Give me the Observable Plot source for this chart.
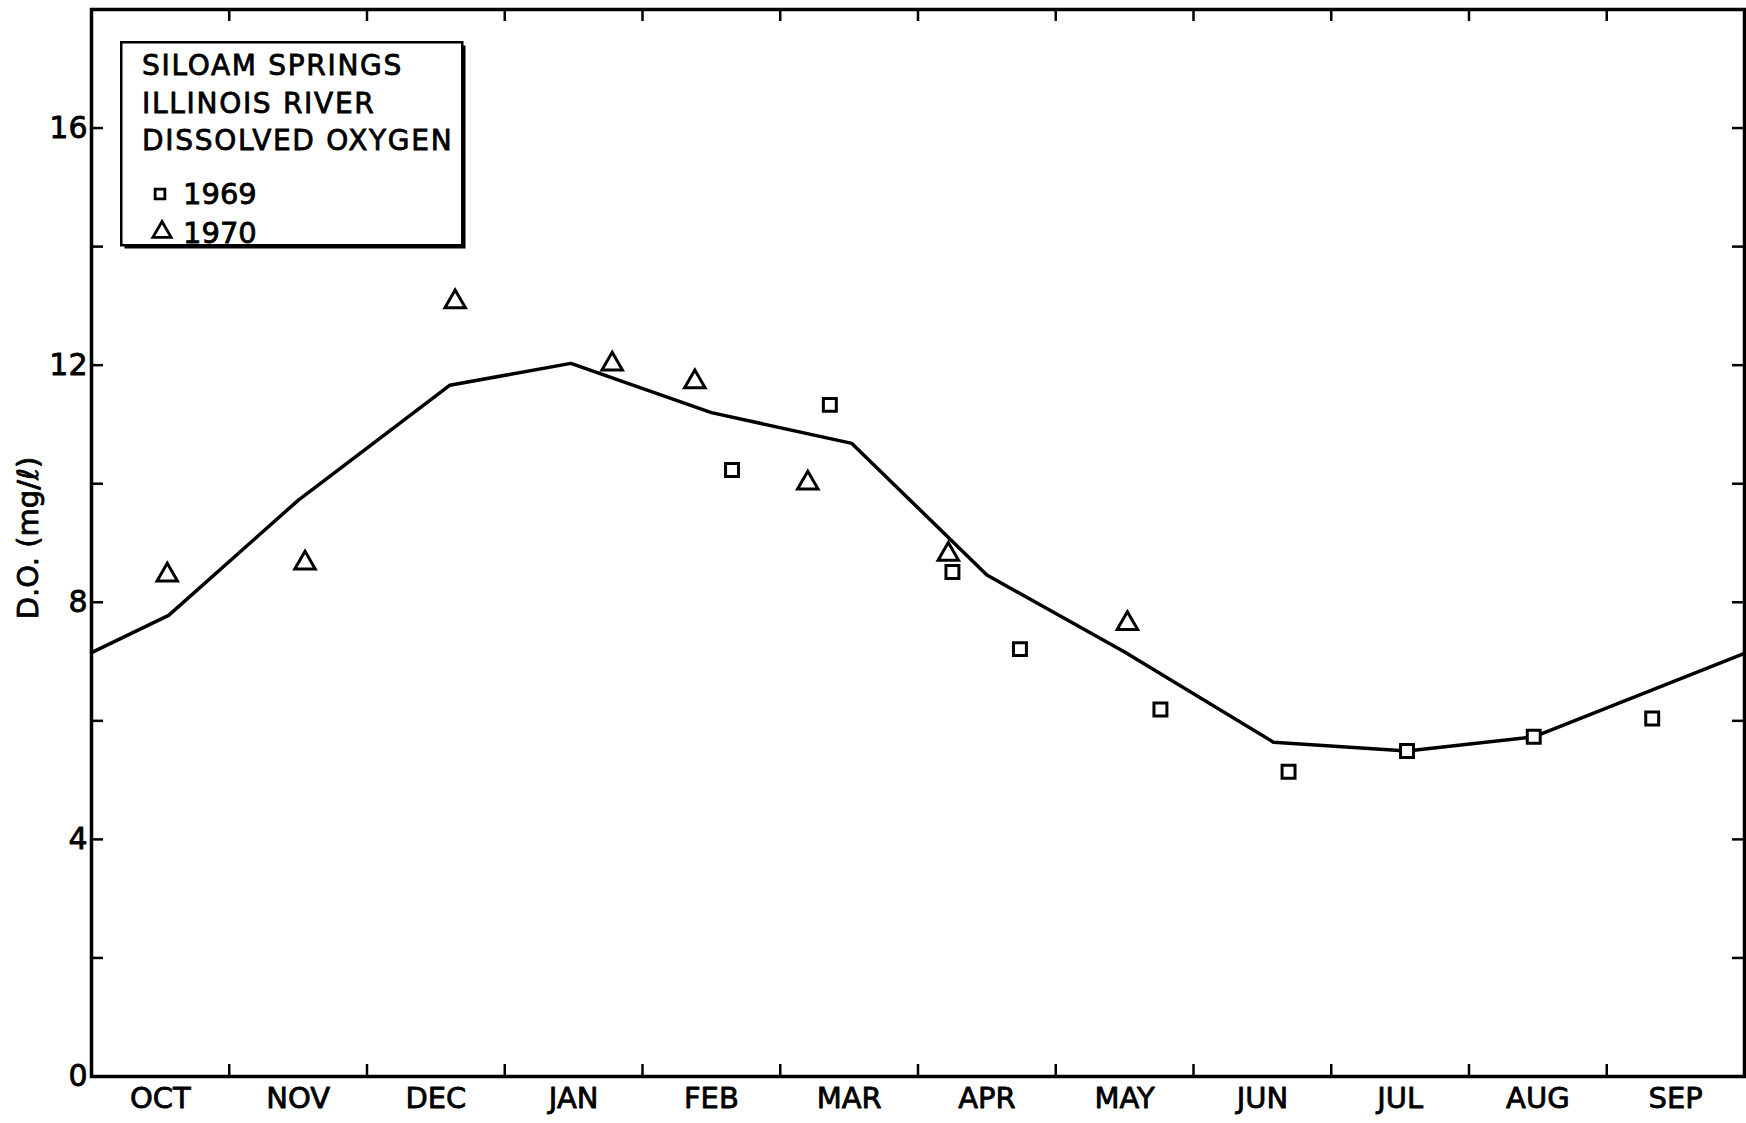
<!DOCTYPE html>
<html>
<head>
<meta charset="utf-8">
<script src="https://cdn.jsdelivr.net/npm/d3@7"></script>
<script src="https://cdn.jsdelivr.net/npm/@observablehq/plot@0.6"></script>
<style>
  html, body { margin: 0; padding: 0; background: #fff; }
  #wrap { position: relative; width: 1746px; height: 1123px; overflow: hidden; background: #fff; }
</style>
</head>
<body>
<div id="wrap"></div>
<script>
// ---- data ----
const months = ["OCT", "NOV", "DEC", "JAN", "FEB", "MAR", "APR", "MAY", "JUN", "JUL", "AUG", "SEP"];
// x positions are months elapsed since 1 October (0..12)
const lineMonth = [0, 0.56, 1.5, 2.6, 3.48, 4.5, 5.52, 6.5, 7.5, 8.58, 9.55, 10.47, 12];
const lineDO    = [7.15, 7.78, 9.72, 11.66, 12.03, 11.2, 10.68, 8.46, 7.16, 5.64, 5.49, 5.73, 7.14];
const month1969 = [4.65, 5.36, 6.25, 6.74, 7.76, 8.69, 9.55, 10.47, 11.33];
const do1969    = [10.23, 11.33, 8.51, 7.21, 6.19, 5.14, 5.49, 5.73, 6.04];
const month1970 = [0.55, 1.55, 2.64, 3.78, 4.38, 5.20, 6.22, 7.52];
const do1970    = [8.46, 8.66, 13.07, 12.02, 11.72, 10.01, 8.81, 7.64];
const yTickLabels = [0, 4, 8, 12, 16];
const yTicks = [2, 4, 6, 8, 10, 12, 14, 16];
const monthBounds = [1, 2, 3, 4, 5, 6, 7, 8, 9, 10, 11];
const legendTitle = ["SILOAM SPRINGS", "ILLINOIS RIVER", "DISSOLVED OXYGEN"];
const legendYears = ["1969", "1970"];

const W = 1746, H = 1123;
const mL = 91, mR = 2, mT = 9, mB = 47;
const pw = W - mL - mR, ph = H - mT - mB;
const TL = 12;

const lineData = lineMonth.map((m, i) => ({m, v: lineDO[i]}));
const d69 = month1969.map((m, i) => ({m, v: do1969[i]}));
const d70 = month1970.map((m, i) => ({m, v: do1970[i]}));

const font = "DejaVu Sans";
const txt = {fill: "black", stroke: "black", strokeWidth: 0.8};

const chart = Plot.plot({
  width: W, height: H,
  marginLeft: mL, marginRight: mR, marginTop: mT, marginBottom: mB,
  x: {domain: [0, 12], axis: null},
  y: {domain: [0, 18], axis: null},
  style: {fontFamily: font, background: "white", color: "black", overflow: "visible"},
  marks: [
    // inward ticks
    Plot.tickY(yTicks, {y: d => d, insetRight: pw - TL, strokeWidth: 2.5}),
    Plot.tickY(yTicks, {y: d => d, insetLeft: pw - TL, strokeWidth: 2.5}),
    Plot.tickX(monthBounds, {x: d => d, insetBottom: ph - TL, strokeWidth: 2.5}),
    Plot.tickX(monthBounds, {x: d => d, insetTop: ph - TL, strokeWidth: 2.5}),
    Plot.frame({strokeWidth: 3.5, stroke: "black"}),
    // labels
    Plot.text(yTickLabels, {y: d => d, text: d => String(d), frameAnchor: "left", textAnchor: "end", dx: -4, fontSize: 30, ...txt}),
    Plot.text(months, {x: (d, i) => i + 0.5, text: d => d, frameAnchor: "bottom", lineAnchor: "middle", dy: 22, fontSize: 29, ...txt}),
    Plot.text(["D.O. (mg/ℓ)"], {text: d => d, frameAnchor: "left", textAnchor: "middle", lineAnchor: "middle", rotate: -90, dx: -63, dy: -5, fontSize: 29, ...txt}),
    // data
    Plot.line(lineData, {x: "m", y: "v", stroke: "black", strokeWidth: 3.5}),
    Plot.dot(d69, {x: "m", y: "v", symbol: "square", r: 7.3, stroke: "black", strokeWidth: 3, fill: "white"}),
    Plot.dot(d70, {x: "m", y: "v", symbol: "triangle", r: 7.6, stroke: "black", strokeWidth: 3, fill: "white"})
  ]
});

const wrap = document.getElementById("wrap");
wrap.appendChild(chart);

// legend box (overlay)
const lw = 341, lh = 203;
const svgNS = "http://www.w3.org/2000/svg";
const leg = document.createElementNS(svgNS, "svg");
leg.setAttribute("width", lw + 8);
leg.setAttribute("height", lh + 8);
leg.style.position = "absolute";
leg.style.left = "120px";
leg.style.top = "41px";
let html = "";
html += `<rect x="4.5" y="4.5" width="${lw}" height="${lh}" fill="black"/>`;
html += `<rect x="1.25" y="1.25" width="${lw}" height="${lh}" fill="white" stroke="black" stroke-width="2.5"/>`;
const baselines = [34, 72, 109];
const tstyle = `font-family="${font}" fill="black" stroke="black" stroke-width="0.8"`;
legendTitle.forEach((t, i) => {
  html += `<text x="22" y="${baselines[i]}" ${tstyle} font-size="28" letter-spacing="1.7">${t}</text>`;
});
html += `<path d="${d3.symbol(d3.symbolSquare, Math.PI * 5.5 * 5.5)()}" transform="translate(40,153)" fill="white" stroke="black" stroke-width="2.8"/>`;
html += `<path d="${d3.symbol(d3.symbolTriangle, Math.PI * 6.8 * 6.8)()}" transform="translate(42,191)" fill="white" stroke="black" stroke-width="2.8"/>`;
html += `<text x="63" y="163" ${tstyle} font-size="29">${legendYears[0]}</text>`;
html += `<text x="63" y="202" ${tstyle} font-size="29">${legendYears[1]}</text>`;
leg.innerHTML = html;
wrap.appendChild(leg);
</script>
</body>
</html>
